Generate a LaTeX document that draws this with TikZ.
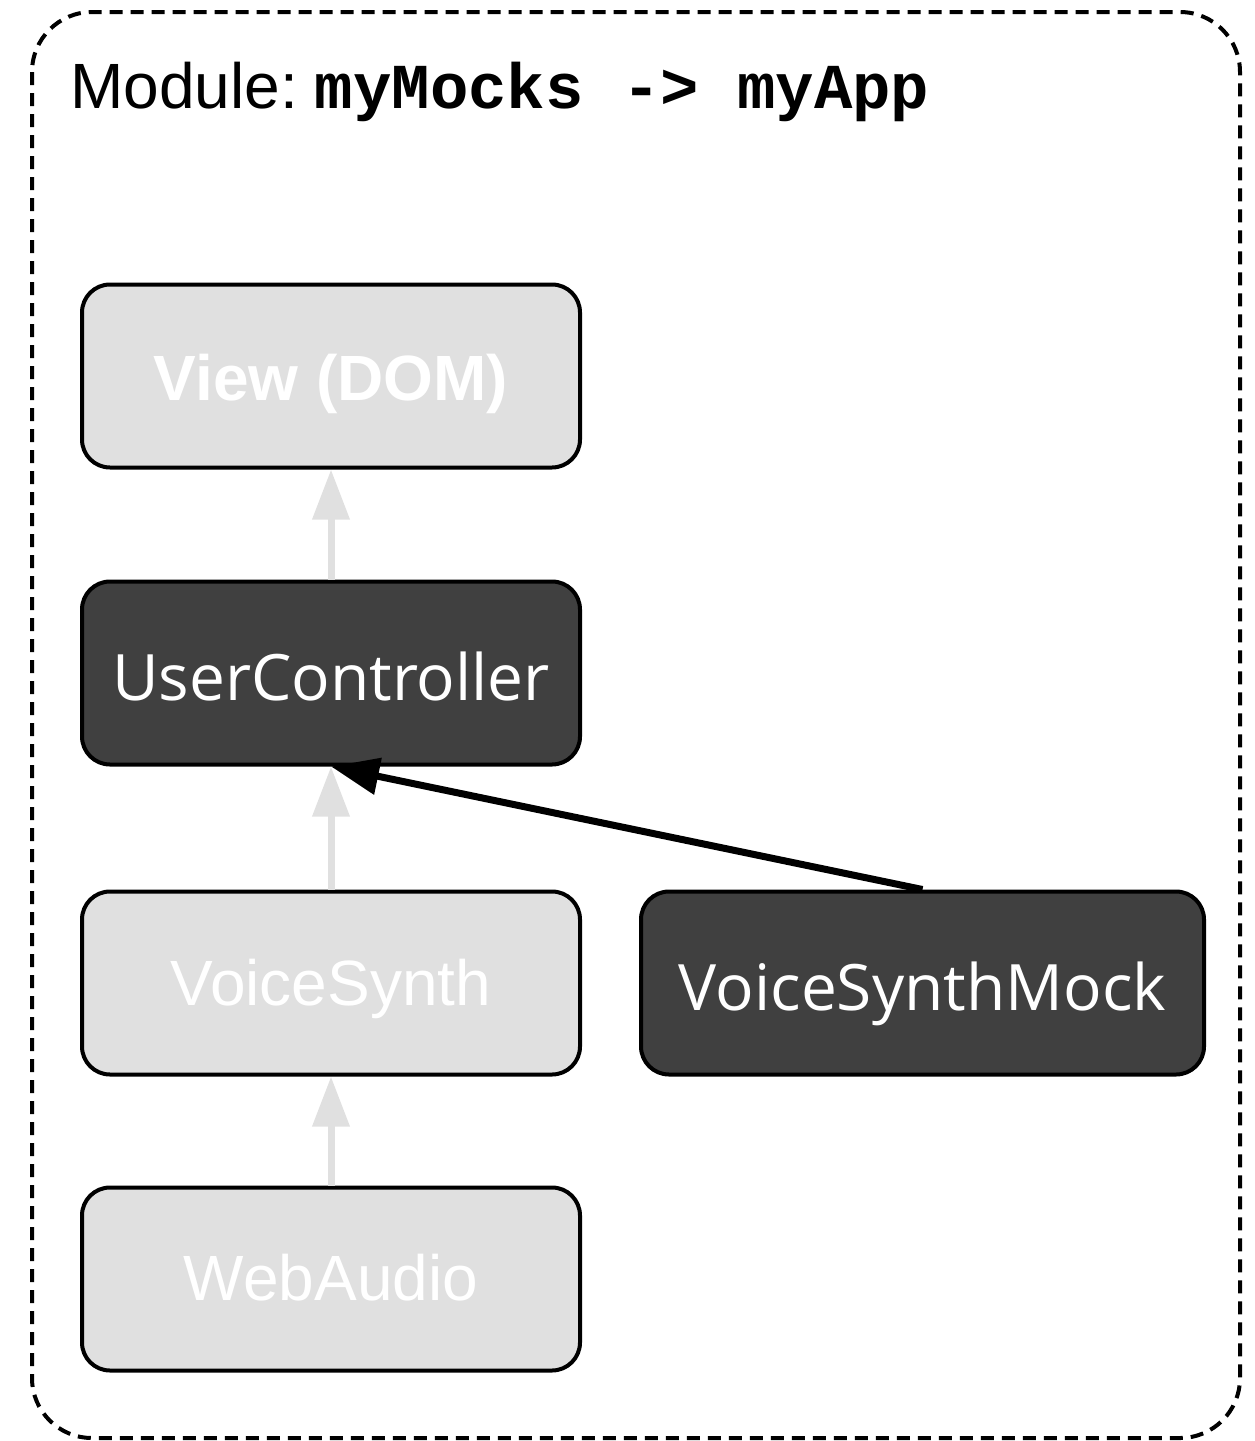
\documentclass[tikz,border=0pt]{standalone}
\usepackage{fontspec}
\setmainfont{Liberation Sans}
\newfontfamily\opensans{Open Sans}
\newfontfamily\monofont{Liberation Mono}
\usetikzlibrary{arrows.meta}
\definecolor{lightbox}{HTML}{E0E0E0}
\definecolor{darkbox}{HTML}{404040}
\tikzset{
  boxbase/.style={draw=black, line width=4pt, rounded corners=28pt, minimum width=498pt, minimum height=183pt, inner sep=0pt, text=white, text depth=0pt},
  lightnode/.style={boxbase, fill=lightbox, font=\fontsize{64}{76}\selectfont, text height=44pt},
  darknode/.style={boxbase, fill=darkbox, font=\opensans\fontsize{64}{76}\selectfont, text height=54pt},
  greyarrow/.style={draw=lightbox, line width=7pt, -{Triangle[length=50pt,width=36pt]}},
  blackarrow/.style={draw=black, line width=7pt, -{Triangle[length=48pt,width=36pt]}},
}
\begin{document}
\begin{tikzpicture}[x=1pt,y=-1pt]
\useasboundingbox (0,0) rectangle (1254,1441);
\draw[line width=4pt, dash pattern=on 13pt off 8pt, rounded corners=60pt] (32,12) rectangle (1240,1438);
\node[anchor=base west, inner sep=0pt, font=\fontsize{64}{76}\selectfont] (title) at (70,108) {Module:\hspace{17pt}{\monofont\bfseries\fontsize{64}{76}\selectfont myMocks -> myApp}};
\node[lightnode, font=\bfseries\fontsize{64}{76}\selectfont, text height=48pt] (view) at (331,376) {View (DOM)};
\node[darknode] (uc) at (331,673) {UserController};
\node[lightnode] (vs) at (331,983) {VoiceSynth};
\node[darknode, minimum width=563pt] (vsm) at (922.5,983) {VoiceSynthMock};
\node[lightnode, text height=42pt] (wa) at (331,1279) {WebAudio};
\draw[greyarrow] (uc.north) -- (view.south);
\draw[greyarrow] (vs.north) -- (uc.south);
\draw[greyarrow] (wa.north) -- (vs.south);
\draw[blackarrow] (vsm.north) -- (uc.south);
\end{tikzpicture}
\end{document}
